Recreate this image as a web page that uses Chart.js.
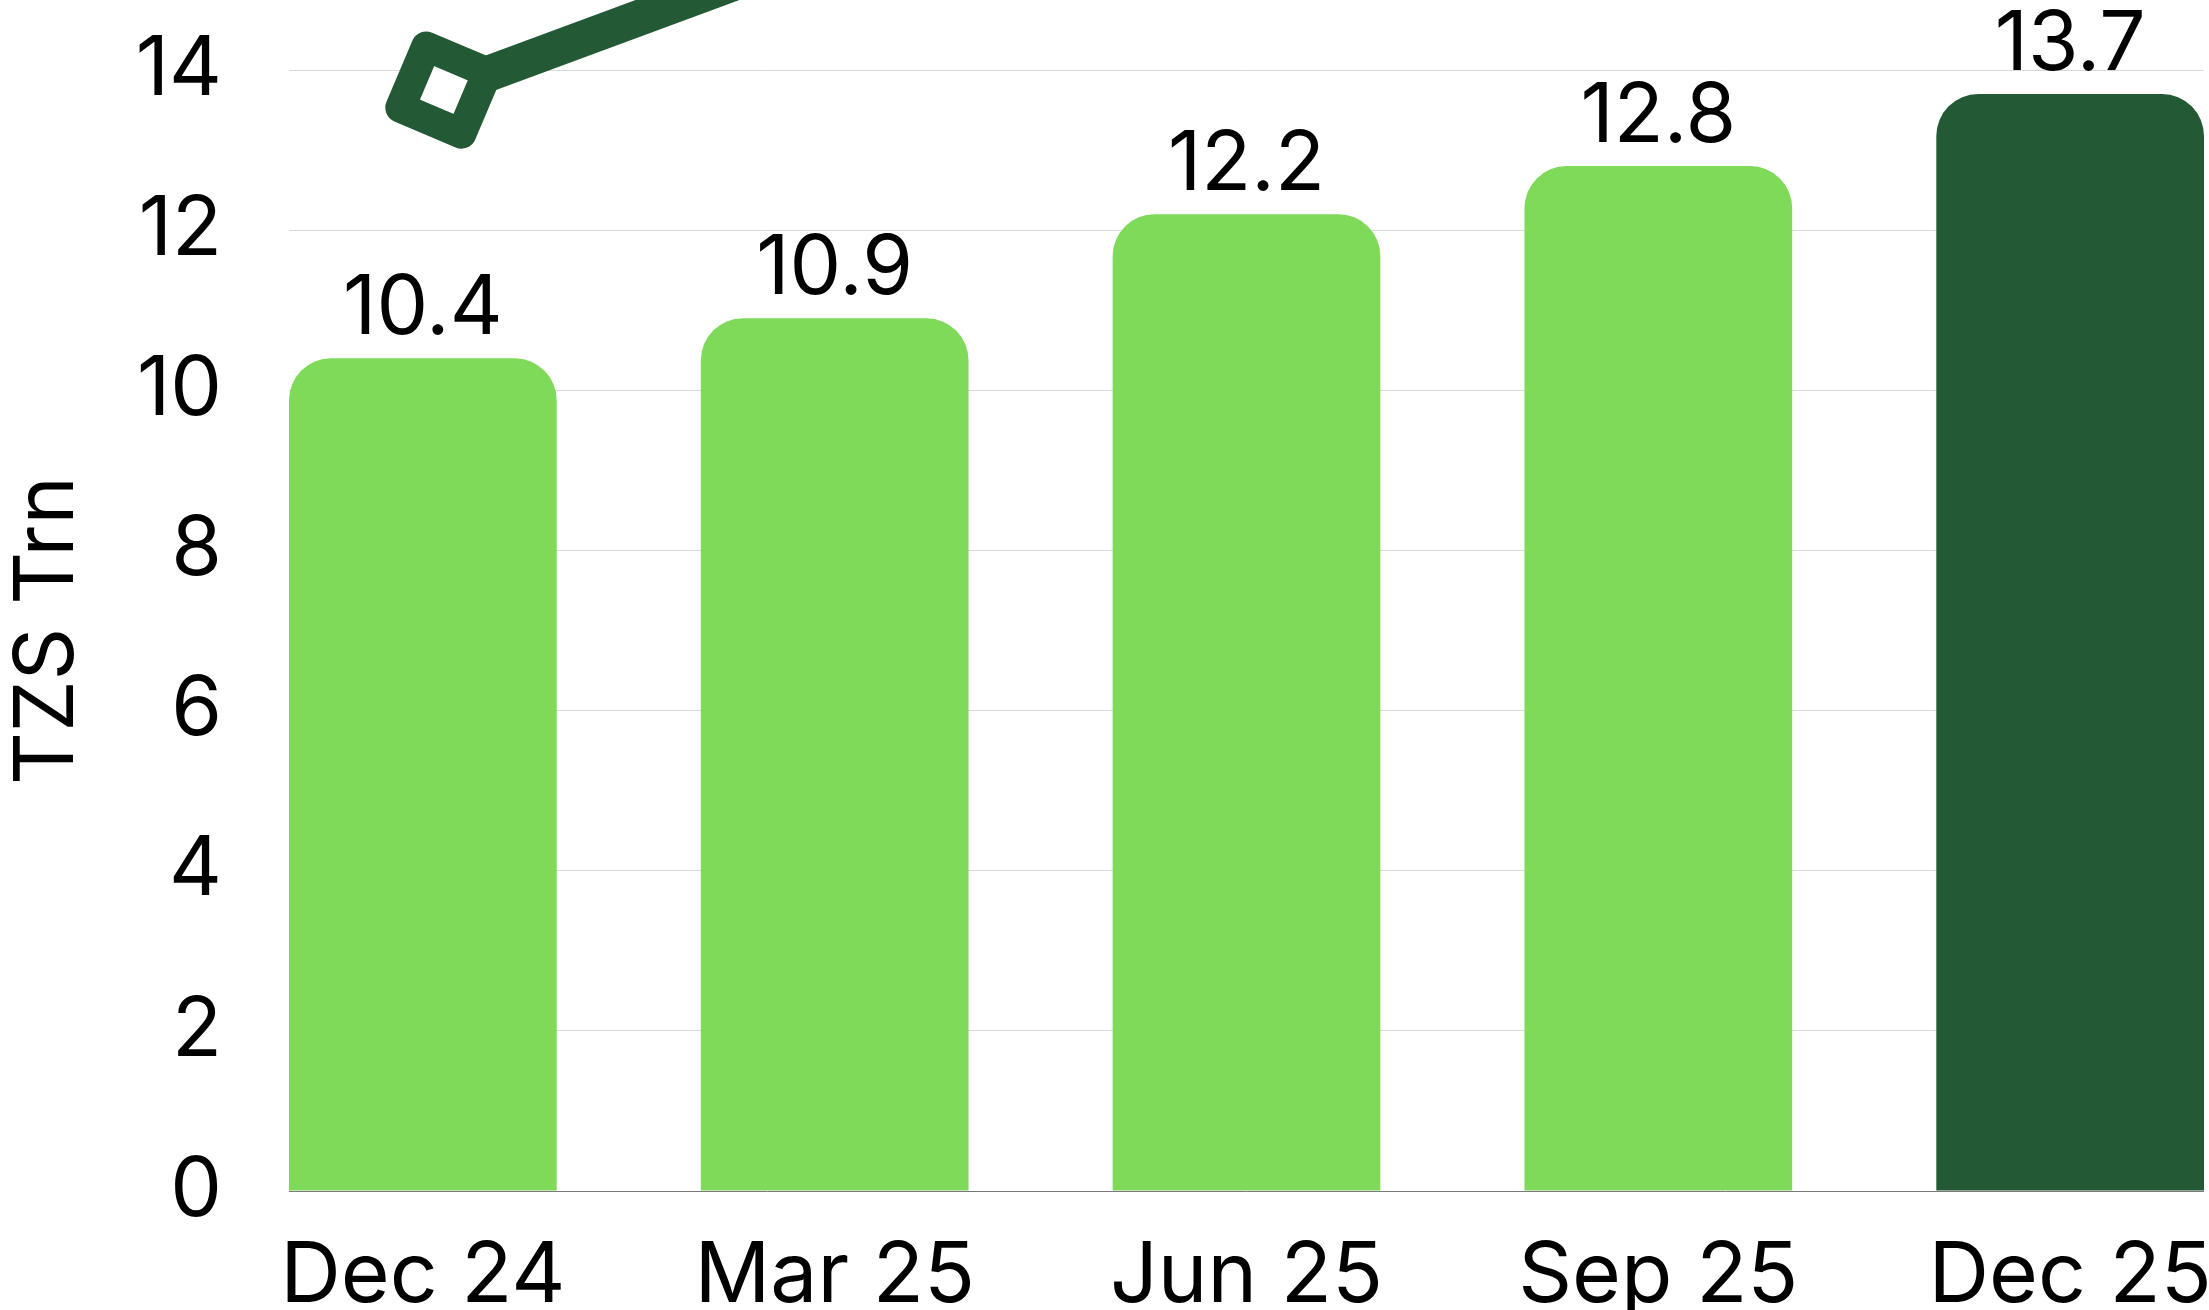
<!DOCTYPE html>
<html>
<head>
<meta charset="utf-8">
<script src="https://cdn.jsdelivr.net/npm/chart.js@4"></script>
<style>
  html, body { margin: 0; padding: 0; background: #ffffff; }
  #wrap { width: 2209px; height: 1310px; }
</style>
</head>
<body>
<div id="wrap"><canvas id="c" width="2209" height="1310"></canvas></div>
<script>
// ---- data ----
const categories = ['Dec 24', 'Mar 25', 'Jun 25', 'Sep 25', 'Dec 25'];
const barValues = [10.4, 10.9, 12.2, 12.8, 13.7];
const lineValues = [13.75, 15.65, 16.2, 16.7, 17.3];
const yTicks = [0, 2, 4, 6, 8, 10, 12, 14];
const barColors = ['#7FDA5A', '#7FDA5A', '#7FDA5A', '#7FDA5A', '#235A35'];
const lineColor = '#235A35';
const axisTitle = 'TZS Trn';

const FONT = 'Inter, "Noto Sans", sans-serif';
const FS = 82;
const FS_X = 84;
const HALF = 0.325;       // half bar width in category units
const LINE_SHIFT = 0.051; // line series drawn on its own slightly shifted x scale

const valueLabels = {
  id: 'valueLabels',
  afterDatasetsDraw(chart) {
    const meta = chart.getDatasetMeta(1);
    const ctx = chart.ctx;
    ctx.save();
    ctx.font = FS + 'px ' + FONT;
    ctx.fillStyle = '#000';
    ctx.textAlign = 'center';
    ctx.textBaseline = 'alphabetic';
    meta.data.forEach((bar, i) => {
      ctx.fillText(barValues[i].toFixed(1), bar.x, bar.y - 24);
    });
    ctx.restore();
  }
};

const roundJoin = {
  id: 'roundJoin',
  beforeDatasetDraw(chart, args) { if (args.index === 0) chart.ctx.lineJoin = 'round'; },
  afterDatasetDraw(chart, args) { if (args.index === 0) chart.ctx.lineJoin = 'miter'; }
};

new Chart(document.getElementById('c'), {
  type: 'bar',
  data: {
    datasets: [
      {
        type: 'line',
        label: 'trend',
        data: lineValues.map((v, i) => ({ x: i, y: v })),
        xAxisID: 'x2',
        yAxisID: 'y',
        borderColor: lineColor,
        borderWidth: 36,
        borderJoinStyle: 'round',
        borderCapStyle: 'round',
        tension: 0,
        clip: false,
        pointStyle: 'rect',
        pointRotation: 23,
        pointRadius: 47,
        pointHoverRadius: 47,
        pointBorderWidth: 30,
        pointHoverBorderWidth: 30,
        pointBackgroundColor: '#ffffff',
        pointBorderColor: lineColor
      },
      {
        type: 'bar',
        label: axisTitle,
        data: barValues.map((v, i) => ({ x: i, y: v })),
        xAxisID: 'x',
        yAxisID: 'y',
        backgroundColor: barColors,
        borderRadius: { topLeft: 42, topRight: 42, bottomLeft: 0, bottomRight: 0 },
        grouped: false,
        barPercentage: 0.65,
        categoryPercentage: 1
      }
    ]
  },
  options: {
    responsive: false,
    animation: false,
    layout: { autoPadding: false, padding: { top: 70, right: 5, left: 0, bottom: 0 } },
    plugins: { legend: { display: false }, tooltip: { enabled: false } },
    scales: {
      x: {
        type: 'linear',
        min: -HALF,
        max: categories.length - 1 + HALF,
        offset: false,
        grid: { display: false, offset: false },
        border: { display: false },
        ticks: {
          stepSize: 1,
          includeBounds: false,
          autoSkip: false,
          maxRotation: 0,
          padding: 27,
          color: '#000',
          font: { family: FONT, size: FS_X },
          callback: (v) => Number.isInteger(v) ? (categories[v] ?? '') : ''
        },
        afterFit: (s) => { s.height = 119; s.paddingLeft = 0; s.paddingRight = 0; }
      },
      x2: {
        type: 'linear',
        display: false,
        offset: false,
        grid: { offset: false },
        min: -HALF - LINE_SHIFT,
        max: categories.length - 1 + HALF - LINE_SHIFT
      },
      y: {
        min: yTicks[0],
        max: yTicks[yTicks.length - 1],
        afterBuildTicks: (s) => { s.ticks = yTicks.map(v => ({ value: v })); },
        ticks: {
          stepSize: 2,
          padding: 67,
          color: '#000',
          font: { family: FONT, size: FS }
        },
        grid: {
          drawTicks: false,
          lineWidth: 1,
          color: (c) => (c.tick && c.tick.value === 0) ? '#7a7a7a' : '#d9d9d9'
        },
        border: { display: false },
        title: {
          display: true,
          text: axisTitle,
          color: '#000',
          font: { family: FONT, size: FS, lineHeight: 1 },
          padding: { top: 7, bottom: 0 }
        },
        afterFit: (s) => { s.width = 289; s.paddingTop = 0; s.paddingBottom = 0; }
      }
    }
  },
  plugins: [valueLabels, roundJoin]
});
</script>
</body>
</html>
